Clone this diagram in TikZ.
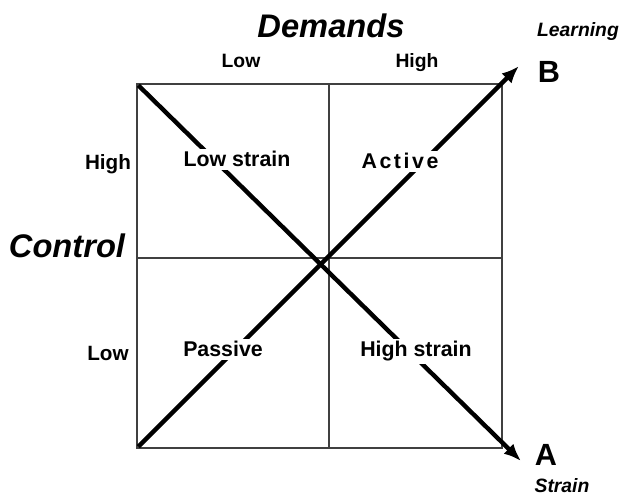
\documentclass[tikz,border=0pt]{standalone}
\usepackage{fontspec}
\setmainfont{Liberation Sans}
\usetikzlibrary{arrows.meta}
\tikzset{
  grid/.style={draw=black!75,line width=1.1pt},
  diag/.style={line width=3.3pt,-{Latex[length=13pt,width=10.5pt]}},
  bigital/.style={font=\fontsize{24.5}{28}\selectfont\bfseries\itshape,anchor=base,inner sep=0pt},
  smallital/.style={font=\fontsize{14.5}{17}\selectfont\bfseries\itshape,anchor=base,inner sep=0pt},
  axislbl/.style={font=\fontsize{14.5}{17}\selectfont\bfseries,anchor=base,inner sep=0pt},
  letter/.style={font=\fontsize{23}{27}\selectfont\bfseries,anchor=base,inner sep=0pt},
  cell/.style={font=\fontsize{16}{19}\selectfont\bfseries,anchor=base,fill=white,inner sep=2pt}
}
\begin{document}
\begin{tikzpicture}[x=0.75pt,y=-0.75pt]
\useasboundingbox (0,0) rectangle (625,495);
% grid
\coordinate (tl) at (137,84);
\coordinate (tr) at (502,84);
\coordinate (bl) at (137,448);
\coordinate (br) at (502,448);
\coordinate (mt) at (329,84);
\coordinate (mb) at (329,448);
\coordinate (ml) at (137,258);
\coordinate (mr) at (502,258);
\draw[grid] (tl) -- (tr) -- (br) -- (bl) -- cycle;
\draw[grid] (mt) -- (mb);
\draw[grid] (ml) -- (mr);
% diagonals
\coordinate (tipA) at (521,461);
\coordinate (tipB) at (519,66);
\draw[diag] ([xshift=1pt,yshift=-1pt]tl) -- (tipA);
\draw[diag] ([xshift=1pt,yshift=1pt]bl) -- (tipB);
% cell labels
\node[cell] (lowstrain) at (237,167) {Low strain};
\node[cell] (active) at (400,169) {\addfontfeature{LetterSpace=12}Active};
\node[cell] (passive) at (223,357) {Passive};
\node[cell] (highstrain) at (416,357) {High strain};
% axis titles
\node[bigital] (demands) at (331,38) {Demands};
\node[bigital] (control) at (67,258) {Control};
\node[axislbl] (dlow) at (241,68) {Low};
\node[axislbl] (dhigh) at (417,68) {High};
\node[axislbl,font=\fontsize{15.5}{18}\selectfont\bfseries] (chigh) at (108,170) {High};
\node[axislbl,font=\fontsize{15.5}{18}\selectfont\bfseries] (clow) at (108,360) {Low};
% ends
\node[letter] (B) at (549,83) {B};
\node[letter] (A) at (546,465) {A};
\node[smallital] (learning) at (578,37) {Learning};
\node[smallital] (strain) at (562,492) {Strain};
\end{tikzpicture}
\end{document}
